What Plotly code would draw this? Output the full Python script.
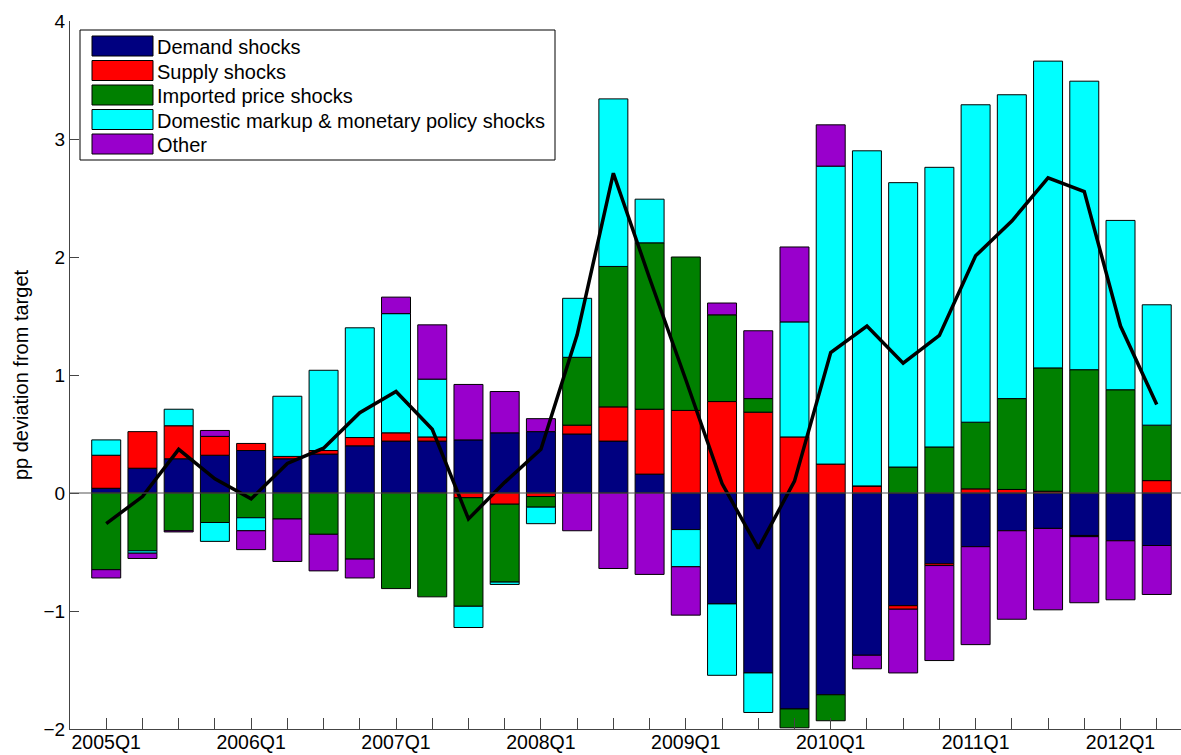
import plotly.graph_objects as go

# quarters 2005Q1 .. 2012Q2
quarters = [f"{y}Q{q}" for y in range(2005, 2013) for q in range(1, 5)][:30]

demand = [0.04, 0.21, 0.29, 0.32, 0.36, 0.29, 0.33, 0.40, 0.44, 0.44,
          0.45, 0.51, 0.52, 0.50, 0.44, 0.16, -0.31, -0.94, -1.525, -1.83,
          -1.71, -1.375, -0.955, -0.60, -0.455, -0.32, -0.30, -0.36, -0.405, -0.445]
supply = [0.28, 0.31, 0.28, 0.16, 0.06, 0.02, 0.03, 0.07, 0.07, 0.035,
          -0.04, -0.095, -0.03, 0.075, 0.29, 0.55, 0.70, 0.775, 0.685, 0.475,
          0.245, 0.06, -0.03, -0.015, 0.035, 0.03, 0.015, -0.01, 0.0, 0.105]
imported = [-0.65, -0.49, -0.32, -0.25, -0.21, -0.22, -0.35, -0.56, -0.81, -0.88,
            -0.92, -0.66, -0.09, 0.575, 1.19, 1.41, 1.30, 0.735, 0.115, -0.16,
            -0.22, 0.0, 0.22, 0.39, 0.565, 0.77, 1.045, 1.045, 0.875, 0.47]
domestic = [0.13, -0.02, 0.14, -0.16, -0.11, 0.51, 0.68, 0.93, 1.01, 0.49,
            -0.18, -0.02, -0.14, 0.50, 1.42, 0.37, -0.315, -0.605, -0.335, 0.975,
            2.525, 2.84, 2.41, 2.37, 2.69, 2.575, 2.60, 2.445, 1.435, 1.02]
other = [-0.07, -0.045, -0.01, 0.05, -0.16, -0.36, -0.31, -0.16, 0.14, 0.46,
         0.47, 0.35, 0.11, -0.32, -0.64, -0.69, -0.41, 0.10, 0.575, 0.635,
         0.35, -0.115, -0.54, -0.805, -0.83, -0.75, -0.69, -0.56, -0.50, -0.415]
deviation = [-0.26, -0.03, 0.37, 0.12, -0.05, 0.25, 0.38, 0.68, 0.86, 0.54,
             -0.22, 0.09, 0.37, 1.34, 2.71, 1.82, 0.96, 0.08, -0.47, 0.10,
             1.19, 1.415, 1.10, 1.335, 2.01, 2.305, 2.67, 2.555, 1.415, 0.75]

names = ["Demand shocks", "Supply shocks", "Imported price shocks",
         "Domestic markup & monetary policy shocks", "Other"]
colors = ["#000080", "#FF0000", "#008000", "#00FFFF", "#9900CC"]
series = [demand, supply, imported, domestic, other]

x = list(range(len(quarters)))
ticktext = [q if q.endswith("Q1") else "" for q in quarters]

fig = go.Figure()
for name, col, vals in zip(names, colors, series):
    fig.add_trace(go.Bar(x=x, y=vals, name=name, marker_color=col,
                         marker_line=dict(color="black", width=1), width=0.8))
fig.add_trace(go.Scatter(x=x, y=deviation, mode="lines",
                         line=dict(color="black", width=3.5), showlegend=False))

# figure pixel geometry
W, H = 1181, 755
ml, mr, mt, mb = 70, 0, 21, 26
pw, ph = W - ml - mr, H - mt - mb
def px(p):
    return (p - ml) / pw
def py(p):
    return (H - mb - p) / ph

# legend drawn by hand (wide swatches like the original)
shapes = [dict(type="rect", xref="paper", yref="paper", x0=px(80), x1=px(555),
               y0=py(160), y1=py(30), line=dict(color="black", width=1),
               fillcolor="white", layer="above")]
annotations = []
for k, (name, col) in enumerate(zip(names, colors)):
    yc = 46 + k * 24.5
    shapes.append(dict(type="rect", xref="paper", yref="paper",
                       x0=px(92), x1=px(153), y0=py(yc + 10), y1=py(yc - 10),
                       fillcolor=col, line=dict(color="black", width=1), layer="above"))
    annotations.append(dict(xref="paper", yref="paper", x=px(155), y=py(yc + 1),
                            text=name, showarrow=False, xanchor="left", yanchor="middle",
                            font=dict(size=20, color="black")))

shapes.append(dict(type="line", xref="paper", yref="y", x0=0, x1=1, y0=0, y1=0,
                   line=dict(color="#555555", width=1), layer="above"))

fig.update_layout(
    barmode="relative",
    width=W, height=H,
    margin=dict(l=ml, r=mr, t=mt, b=mb),
    plot_bgcolor="white", paper_bgcolor="white",
    font=dict(family="Liberation Sans, Arial, sans-serif", size=19, color="black"),
    showlegend=False,
    shapes=shapes,
    annotations=annotations,
    xaxis=dict(range=[-1, 29.67], tickvals=x, ticktext=ticktext, ticks="inside",
               ticklen=11, tickcolor="#444444", showline=True, linecolor="#444444",
               showgrid=False, zeroline=False, tickfont=dict(size=19.5),
               automargin=False, ticklabelstandoff=-4),
    yaxis=dict(range=[-2, 4], dtick=1, ticks="inside", ticklen=9, tickcolor="#444444",
               showline=True, linecolor="#444444", showgrid=False, zeroline=False,
               title=dict(text="pp deviation from target", font=dict(size=20), standoff=9),
               tickfont=dict(size=19), automargin=False),
)

# drop the default page margin so the figure fills the window
fig.write_html("out.html", config={"displayModeBar": False},
               post_script="document.body.style.margin='0';")
